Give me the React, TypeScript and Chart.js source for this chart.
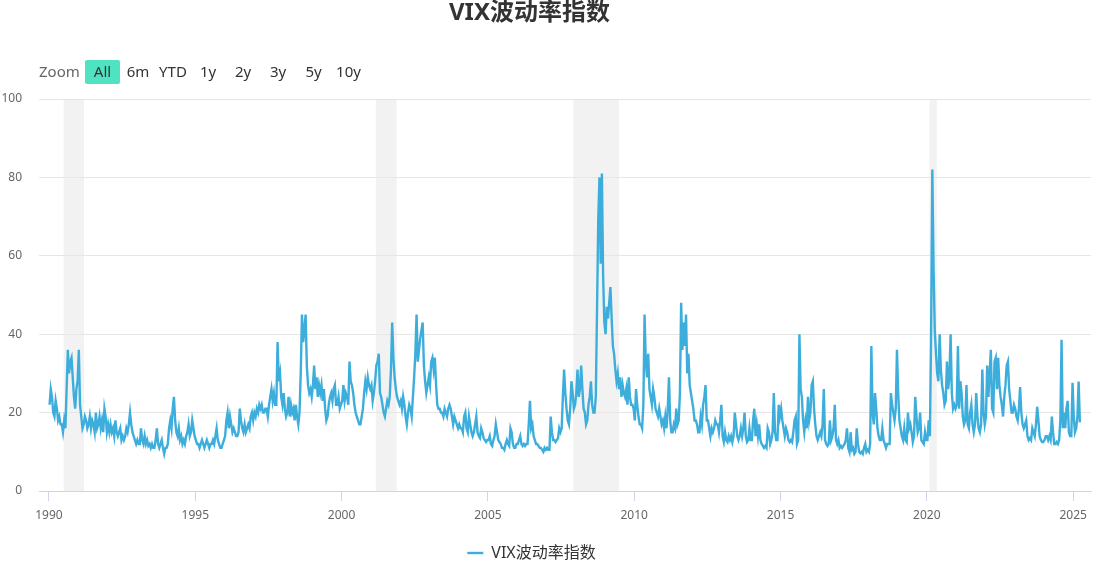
import React, { useEffect, useRef } from "react";
import { Chart, registerables } from "chart.js";

Chart.register(...registerables);

const TITLE = "VIX波动率指数";
const SERIES_NAME = "VIX波动率指数";
const FONT = '"Noto Sans", "Noto Sans CJK SC", sans-serif';

const xTickYears = [1990, 1995, 2000, 2005, 2010, 2015, 2020, 2025];
const yTickValues = [0, 20, 40, 60, 80, 100];
const rangeButtons = ["All", "6m", "YTD", "1y", "2y", "3y", "5y", "10y"];

// shaded recession periods (fractional years)
const recessionStarts = [1990.5, 2001.17, 2007.92, 2020.09];
const recessionEnds = [1991.2, 2001.88, 2009.48, 2020.34];

// two readings per month, Jan..Dec, one row per year
const vix1990s = [
  22, 26, 24, 20, 19, 23, 21, 18, 19, 17, 17, 15, 18, 16, 26, 36, 30, 33, 34, 29, 24, 21, 26, 28,
  36, 22, 19, 16, 17, 19, 18, 16, 17, 19, 16, 18, 17, 15, 20, 16, 17, 19, 16, 18, 15, 21, 19, 15,
  17, 15, 17, 15, 16, 14, 18, 15, 14, 15, 16, 13, 14, 13, 14, 16, 15, 17, 20, 17, 15, 14, 13, 12,
  13, 12, 12, 16, 13, 12, 14, 12, 13, 11.5, 12, 11, 12, 11, 11, 13, 16, 12, 11, 12, 13, 11, 9.5, 11,
  11, 12, 16, 18, 16, 21, 24, 18, 15, 14, 16, 13, 14, 12, 13, 12, 14, 15, 17, 14, 15, 18, 16, 14,
  13, 12, 12, 11, 12, 13, 12, 11, 12, 13, 12, 11, 12, 12, 13, 12, 14, 16, 13, 12, 11, 11, 12, 13,
  14, 18, 20, 16, 19, 17, 15, 16, 15, 14, 14, 15, 21, 18, 16, 15, 17, 15, 16, 17, 16, 19, 20, 18,
  20, 19, 21, 20, 22, 21, 22, 20, 20, 21, 21, 19, 22, 24, 26, 23, 25, 22, 22, 38, 28, 30, 24, 22,
  25, 21, 19, 20, 24, 19, 22, 20, 21, 18, 22, 19, 17, 20, 30, 45, 38, 41, 45, 32, 27, 25, 26, 24,
  27, 32, 26, 29, 24, 27, 25, 27, 23, 26, 21, 18, 19, 22, 24, 25, 23, 26, 27, 22, 22, 24, 21, 22,
];

const vix2000s = [
  23, 27, 23, 25, 24, 22, 33, 28, 27, 25, 22, 20, 19, 18, 17, 17, 19, 21, 25, 28, 26, 29, 27, 26,
  27, 23, 25, 28, 32, 33, 35, 25, 24, 22, 20, 19, 21, 23, 22, 24, 31, 43, 34, 29, 26, 24, 23, 22,
  23, 21, 24, 22, 19, 17, 20, 22, 21, 19, 24, 29, 35, 45, 33, 36, 39, 41, 43, 32, 28, 25, 27, 29,
  27, 33, 34, 31, 34, 27, 22, 21, 21, 20, 20, 19, 21, 20, 19, 21, 22, 21, 19, 17, 19, 18, 17, 16,
  17, 16, 16, 15, 19, 20, 16, 15, 19, 17, 15, 14, 15, 17, 19, 15, 14, 13.5, 16, 15, 13.5, 13, 12.5, 13,
  13, 14, 12, 11.5, 13, 14, 17, 15, 13, 12.5, 12, 11, 11, 10.5, 12, 13, 12, 11.5, 16, 15, 12, 11, 11, 12,
  12, 13, 14, 12, 11.5, 12, 11.5, 12, 12, 17, 23, 16, 17, 14, 13, 12, 12, 11.5, 11, 11, 10.5, 10, 11, 10.5,
  11, 10.5, 10.5, 19, 15, 13, 13, 12.5, 13, 13.5, 16, 15, 16, 24, 31, 25, 21, 18, 17, 21, 28, 25, 21, 22,
  25, 31, 24, 26, 32, 26, 21, 20, 17, 18, 22, 24, 28, 22, 20, 20, 24, 46, 69, 80, 58, 81, 55, 43,
  40, 47, 44, 48, 52, 44, 37, 35, 31, 28, 30, 26, 29, 24, 27, 25, 24, 26, 22, 29, 24, 22, 22, 21,
];

const vix2010s = [
  18, 26, 22, 19, 17, 17, 16, 22, 45, 33, 29, 35, 26, 24, 22, 26, 24, 21, 20, 19, 21, 19, 17, 18,
  16, 19, 16, 21, 29, 18, 15, 15, 17, 16, 21, 17, 18, 25, 48, 36, 43, 37, 45, 30, 35, 27, 25, 23,
  21, 18, 18, 17, 15, 15, 19, 17, 22, 24, 27, 18, 18, 16, 14, 16, 15, 16, 18, 17, 17, 15, 18, 22,
  14, 12.5, 15, 13, 12.5, 14, 13, 14, 12.5, 14, 20, 17, 14, 13, 14, 16, 14, 16, 20, 14, 12.5, 13, 16, 13,
  13, 18, 21, 14, 17, 14, 17, 13, 12, 11.5, 11, 11.5, 11, 16, 15, 12, 13, 15, 25, 15, 13, 13, 22, 19,
  21, 18, 16, 14, 16, 15, 13, 12.5, 13, 12.5, 15, 18, 19, 12, 13, 40, 26, 24, 18, 15, 18, 16, 24, 18,
  20, 27, 28, 21, 17, 14, 13, 14, 15, 14, 17, 26, 13, 12, 11.5, 12, 18, 13, 14, 16, 22, 13, 12, 13,
  11, 11.5, 11, 11.5, 12, 13, 16, 11, 10, 15, 10.5, 11, 9.5, 10, 16, 12, 10, 9.6, 10, 9.5, 11, 12, 10, 10.5,
  10, 12, 37, 20, 17, 25, 21, 16, 14, 13, 13, 16, 13, 12, 11, 12, 12, 12, 25, 22, 20, 18, 21, 36,
  25, 18, 16, 14, 13, 16, 13, 12.5, 20, 16, 17, 15, 12.5, 14, 24, 19, 15, 16, 20, 13, 12.5, 12, 15, 13,
];

const vix2020s = [
  13, 18, 14, 40, 82, 57, 41, 35, 30, 28, 40, 31, 27, 25, 22, 23, 33, 26, 29, 40, 25, 21, 22, 21,
  22, 37, 21, 28, 25, 19, 17, 18, 27, 17, 16, 20, 22, 17, 15, 17, 25, 19, 16, 15, 17, 31, 20, 17,
  19, 32, 24, 30, 36, 21, 20, 33, 34, 26, 34, 27, 24, 22, 19, 24, 27, 32, 33, 26, 23, 20, 20, 22,
  21, 19, 18, 21, 26.5, 20, 17, 16, 17, 18, 14, 13, 13.5, 13, 16, 15, 14, 17, 21.5, 18, 14, 13, 12.5, 12.5,
  13, 14, 14, 13, 14, 13, 19, 15, 12, 12, 12.5, 12, 13, 18, 38.6, 16, 20, 16, 21, 23, 15, 14, 14, 27.6,
  19, 15, 16, 19, 27.9, 17.5,
];

type Pt = { x: number; y: number };

function toPoints(startYear: number, vals: number[]): Pt[] {
  return vals.map((v, i) => ({
    x: startYear + (Math.floor(i / 2) + (i % 2 === 0 ? 0.25 : 0.75)) / 12,
    y: v,
  }));
}

const recessionPlugin = {
  id: "recessionBands",
  beforeDraw(chart: any) {
    const { ctx, chartArea, scales } = chart;
    const xs = scales.x;
    ctx.save();
    ctx.fillStyle = "#f2f2f2";
    recessionStarts.forEach((s, i) => {
      const x1 = xs.getPixelForValue(s);
      const x2 = xs.getPixelForValue(recessionEnds[i]);
      ctx.fillRect(x1, chartArea.top, x2 - x1, chartArea.bottom - chartArea.top);
    });
    ctx.restore();
  },
};

// nudge the title and legend boxes so they sit where the reference has them
const boxShiftPlugin = {
  id: "boxShift",
  afterLayout(chart: any) {
    const lg = chart.legend;
    if (lg) {
      lg.left -= 14;
      lg.right -= 14;
    }
    const tb = chart.titleBlock;
    if (tb) {
      tb.left -= 16;
      tb.right -= 16;
    }
  },
};

export default function App() {
  const canvasRef = useRef<HTMLCanvasElement | null>(null);

  useEffect(() => {
    if (!canvasRef.current) return;
    const data: Pt[] = [
      ...toPoints(1990, vix1990s),
      ...toPoints(2000, vix2000s),
      ...toPoints(2010, vix2010s),
      ...toPoints(2020, vix2020s),
    ];
    const chart = new Chart(canvasRef.current, {
      type: "line",
      data: {
        datasets: [
          {
            label: SERIES_NAME,
            data,
            borderColor: "#3daedb",
            backgroundColor: "#3daedb",
            borderWidth: 2.4,
            pointRadius: 0,
            tension: 0,
            fill: false,
          },
        ],
      },
      options: {
        animation: false,
        responsive: false,
        devicePixelRatio: 1,
        events: [],
        layout: { padding: { left: 0, right: 11, top: 0, bottom: -7 } },
        plugins: {
          title: {
            display: true,
            text: TITLE,
            color: "#333333",
            font: { family: FONT, size: 24, weight: "bold", lineHeight: 1 },
            padding: { top: 1, bottom: 74 },
          },
          legend: {
            display: true,
            position: "bottom",
            labels: {
              usePointStyle: true,
              pointStyle: "line",
              pointStyleWidth: 16,
              color: "#333333",
              padding: 10,
              font: { family: FONT, size: 16 },
            },
          },
          tooltip: { enabled: false },
        },
        scales: {
          x: {
            type: "linear",
            min: 1989.66,
            max: 2025.61,
            afterBuildTicks: (scale: any) => {
              scale.ticks = xTickYears.map((v) => ({ value: v }));
            },
            afterFit: (scale: any) => {
              scale.height = 44;
            },
            grid: {
              display: true,
              drawOnChartArea: false,
              drawTicks: true,
              tickLength: 10,
              color: "#ccd6eb",
            },
            border: { display: true, color: "#ccd6eb" },
            ticks: {
              autoSkip: false,
              maxRotation: 0,
              padding: 7,
              color: "#666666",
              font: { family: FONT, size: 12 },
              callback: (v: any) => String(v),
            },
          },
          y: {
            min: 0,
            max: 100,
            afterBuildTicks: (scale: any) => {
              scale.ticks = yTickValues.map((v) => ({ value: v }));
            },
            afterFit: (scale: any) => {
              scale.width = 39;
            },
            grid: { color: "#e6e6e6", drawTicks: false, tickLength: 0 },
            border: { display: false },
            ticks: {
              padding: 17,
              color: "#666666",
              font: { family: FONT, size: 12 },
              callback: (v: any) => String(v),
            },
          },
        },
      },
      plugins: [recessionPlugin, boxShiftPlugin],
    } as any);
    return () => chart.destroy();
  }, []);

  const btnCenters = [102.5, 138, 173, 208, 243, 278, 313.5, 348.5];

  return (
    <div style={{ position: "absolute", left: 0, top: 0, width: 1102, height: 564, background: "#fff" }}>
      <canvas ref={canvasRef} width={1102} height={564} style={{ display: "block", width: 1102, height: 564 }} />
      <div
        style={{
          position: "absolute",
          left: 39,
          top: 59,
          height: 24,
          lineHeight: "24px",
          fontFamily: FONT,
          fontSize: 15,
          color: "#666666",
        }}
      >
        Zoom
      </div>
      {rangeButtons.map((b, i) => (
        <div
          key={b}
          style={{
            position: "absolute",
            left: btnCenters[i] - 17.5,
            top: 60,
            width: 35,
            height: 24,
            lineHeight: "23px",
            textAlign: "center",
            fontFamily: FONT,
            fontSize: 15,
            color: "#333333",
            background: i === 0 ? "#50e3c2" : "transparent",
            borderRadius: 2,
          }}
        >
          {b}
        </div>
      ))}
    </div>
  );
}
